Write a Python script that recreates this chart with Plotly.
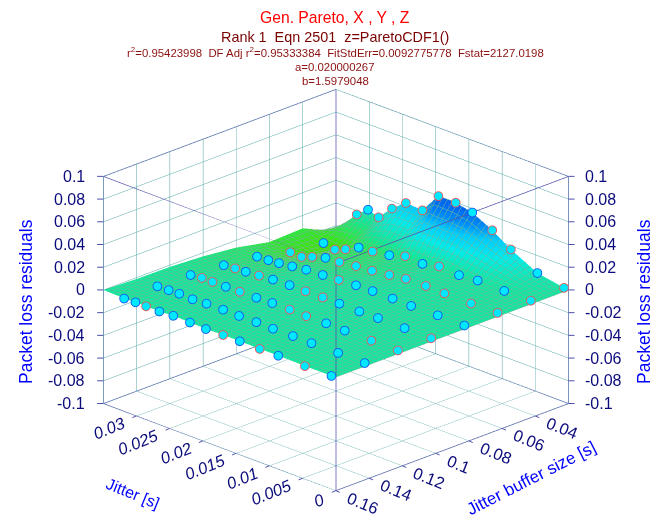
import plotly.graph_objects as go

# ---------- data ----------
jitter = [0.0007, 0.0047, 0.0087, 0.0115, 0.0145, 0.017, 0.0196, 0.022, 0.0245, 0.0266, 0.0286, 0.0302, 0.0319]
buffer_size = [0.16, 0.14, 0.12, 0.10, 0.08, 0.06, 0.04, 0.02]

# residuals at each (buffer row, jitter column)
z_160 = [-0.0004, -0.0005, -0.0001, -0.0003, -0.0001, -0.0001, -0.0005, 0.0, 0.0004, -0.0004, -0.0002, -0.0002, -0.0006]
z_140 = [0.0, 0.0002, 0.0, 0.0001, 0.0, 0.0003, 0.0001, 0.0004, 0.0002, -0.0006, -0.0001, -0.0004, -0.0008]
z_120 = [0.0001, 0.0, 0.0001, 0.0004, 0.0001, 0.0004, 0.0005, -0.0001, -0.0003, -0.0005, -0.0006, -0.0006, -0.0018]
z_100 = [-0.0001, 0.0001, 0.0002, -0.0001, 0.0002, 0.0002, 0.0, 0.0, -0.0005, -0.0016, -0.0026, -0.0032, -0.0041]
z_080 = [0.0002, 0.0004, -0.0001, 0.0003, 0.0003, -0.0001, -0.0011, -0.002, -0.0028, -0.0045, -0.006, -0.0069, -0.0075]
z_060 = [0.0003, -0.0001, 0.0, 0.0004, 0.0001, -0.002, -0.0039, -0.0051, -0.007, -0.0079, -0.0115, -0.015, -0.0147]
z_040 = [0.0001, 0.0, 0.0004, -0.001, 0.0001, -0.0031, -0.0021, -0.0065, -0.0087, -0.0098, -0.0157, -0.0195, -0.0175]
z_020 = [0.0005, 0.0048, 0.0168, 0.0276, 0.0366, 0.0398, 0.0399, 0.0221, 0.0231, 0.0136, 0.0015, 0.0047, -0.0032]
z_rows = [z_160, z_140, z_120, z_100, z_080, z_060, z_040, z_020]
# marker outline: "a" above the fitted surface, "b" below it (listed from high jitter to low jitter)
side_rows = ["aabaaaabababa", "aaaaaaaaaaaaa", "abbabaabbaabb", "ababaabbaaaab", "aaaaaabaaaaaa", "bbbabbbbbbbbb", "abbabababaaab", "babbbbbbabbab"]

# surface nodes: jitter axis limits are added at both ends
surface_jitter = [0.0] + jitter + [0.035]
edge_at_zero = [0.0, 0.0, 0.0, 0.0, 0.0, 0.0, 0.0, 0.0]
edge_at_max = [0.0, -0.0012, -0.0015, -0.0032, -0.0064, -0.0125, -0.0113, -0.0253]

jitter_ticks = [0, 0.005, 0.01, 0.015, 0.02, 0.025, 0.03]
jitter_labels = ["0", "0.005", "0.01", "0.015", "0.02", "0.025", "0.03"]
buffer_ticks = [0.04, 0.06, 0.08, 0.1, 0.12, 0.14, 0.16]
buffer_labels = ["0.04", "0.06", "0.08", "0.1", "0.12", "0.14", "0.16"]
z_ticks = [-0.1, -0.08, -0.06, -0.04, -0.02, 0, 0.02, 0.04, 0.06, 0.08, 0.1]
z_labels = ["-0.1", "-0.08", "-0.06", "-0.04", "-0.02", "0", "0.02", "0.04", "0.06", "0.08", "0.1"]

title_lines = [
    ("Gen. Pareto, X , Y , Z", 15.7, "#ff0000", 18),
    ("Rank 1  Eqn 2501  z=ParetoCDF1()", 14.4, "#7a0000", 37),
    ("r<sup>2</sup>=0.95423998  DF Adj r<sup>2</sup>=0.95333384  FitStdErr=0.0092775778  Fstat=2127.0198", 11.4, "#8c1010", 52),
    ("a=0.020000267", 11.4, "#8c1010", 67),
    ("b=1.5979048", 11.4, "#8c1010", 81),
]

colorscale = [
    [0.0, "#48e000"], [0.12, "#40e400"], [0.24, "#28e850"], [0.36, "#10e898"], [0.44, "#10e8b8"],
    [0.56, "#00ecec"], [0.70, "#00ccff"], [0.80, "#0090f8"], [0.92, "#0068f0"], [1.0, "#0060f0"],
]

NAVY = "#0b0b7c"
BLUE = "#0000ff"
LINE = "#5050ac"
GRID = "#50a6a4"
MESH = "#70b898"
FONT = "Liberation Sans"

surface_z = [[edge_at_zero[j]] + z_rows[j] + [edge_at_max[j]] for j in range(len(buffer_size))]
x_range, y_range, z_range = [0, 0.035], [0.02, 0.16], [-0.1, 0.1]

fig = go.Figure()
fig.add_trace(go.Surface(
    x=surface_jitter, y=buffer_size, z=surface_z,
    colorscale=colorscale, cmin=-0.026, cmax=0.042, showscale=False,
    lighting=dict(ambient=1, diffuse=0, specular=0, roughness=1, fresnel=0),
    contours=dict(
        x=dict(show=True, start=0, end=0.035, size=0.035 / 48, color=MESH, width=1, highlight=False),
        y=dict(show=True, start=0.02, end=0.16, size=0.14 / 48, color=MESH, width=1, highlight=False),
        z=dict(highlight=False),
    ),
    hoverinfo="skip", scene="scene",
))

# box outline, from the axis ranges
x0, x1 = x_range
y0, y1 = y_range
z0, z1 = z_range
edges = [((x0, y0, z0), (x0, y0, z1)), ((x1, y0, z0), (x1, y0, z1)), ((x0, y1, z0), (x0, y1, z1)), ((x1, y1, z0), (x1, y1, z1)),
         ((x0, y0, z0), (x1, y0, z0)), ((x1, y0, z0), (x1, y1, z0)), ((x1, y1, z0), (x0, y1, z0)), ((x0, y1, z0), (x0, y0, z0)),
         ((x0, y0, z1), (x1, y0, z1)), ((x1, y0, z1), (x1, y1, z1)), ((x1, y1, z1), (x0, y1, z1)), ((x0, y1, z1), (x0, y0, z1))]
ex, ey, ez = [], [], []
for a, b in edges:
    ex += [a[0], b[0], None]
    ey += [a[1], b[1], None]
    ez += [a[2], b[2], None]
fig.add_trace(go.Scatter3d(x=ex, y=ey, z=ez, mode="lines", line=dict(color=LINE, width=1.5),
                           hoverinfo="skip", scene="scene"))

all_x, all_y, all_z = [], [], []
for key, outline in (("a", "#1058f0"), ("b", "#e85858")):
    px, py, pz = [], [], []
    for j, yv in enumerate(buffer_size):
        for i, xv in enumerate(jitter):
            if side_rows[j][12 - i] == key:
                px.append(xv)
                py.append(yv)
                pz.append(z_rows[j][i])
    all_x += px
    all_y += py
    all_z += pz
    fig.add_trace(go.Scatter3d(x=px, y=py, z=pz, mode="markers",
                               marker=dict(size=5.6, color=outline, opacity=1, line=dict(width=0)),
                               hoverinfo="skip", scene="scene2"))
fig.add_trace(go.Scatter3d(x=all_x, y=all_y, z=all_z, mode="markers",
                           marker=dict(size=4.6, color="#00e8ff", opacity=1, line=dict(width=0)),
                           hoverinfo="skip", scene="scene3"))


def label_width(t, size=16):
    return size * (0.556 * sum(c.isdigit() for c in t) + 0.278 * ("." in t))


def tick(x, y, z, ax, ay):
    return dict(x=x, y=y, z=z, text=" ", showarrow=True, arrowhead=0, arrowwidth=1, arrowcolor=LINE,
                ax=ax, ay=ay, standoff=0, startstandoff=0, xanchor="center", yanchor="middle")


annots = []
for v, t in zip(z_ticks, z_labels):
    annots.append(dict(x=0.035, y=0.16, z=v, text=t, showarrow=False, xanchor="right", yanchor="middle", xshift=-16,
                       font=dict(family=FONT, size=16, color=NAVY)))
    annots.append(dict(x=0.0, y=0.02, z=v, text=t, showarrow=False, xanchor="left", yanchor="middle", xshift=14,
                       font=dict(family=FONT, size=16, color=NAVY)))
    annots.append(tick(0.035, 0.16, v, -9, 0))
    annots.append(tick(0.0, 0.02, v, 9, 0))
for v, t in zip(jitter_ticks, jitter_labels):
    w = label_width(t)
    annots.append(dict(x=v, y=0.16, z=-0.1, text="<i>" + t + "</i>", showarrow=False, textangle=-22,
                       xanchor="center", yanchor="middle",
                       xshift=-(12.5 + 0.47 * w), yshift=-(8 + 0.14 * w),
                       font=dict(family=FONT, size=16.5, color=NAVY)))
    annots.append(tick(v, 0.16, -0.1, -7, 3))
for v, t in zip(buffer_ticks, buffer_labels):
    w = label_width(t)
    annots.append(dict(x=0.0, y=v, z=-0.1, text=t, showarrow=False, textangle=22,
                       xanchor="center", yanchor="middle",
                       xshift=12.5 + 0.47 * w, yshift=-(8 + 0.13 * w),
                       font=dict(family=FONT, size=16.5, color=NAVY)))
    annots.append(tick(0.0, v, -0.1, 7, 3))

axis_common = dict(showbackground=False, showgrid=True, gridcolor=GRID, gridwidth=1, zeroline=False,
                   showline=False, ticks="", showticklabels=False, title=dict(text=""), showspikes=False)
camera = dict(eye=dict(x=-1.25, y=1.25, z=0.714), center=dict(x=0, y=0, z=0), up=dict(x=0, y=0, z=1),
              projection=dict(type="orthographic"))
dom = dict(x=[0.01, 1.0], y=[0.002, 0.885])
ratio = dict(x=1.43, y=1.43, z=1.065)

scene1 = dict(domain=dom, camera=camera, aspectmode="manual", aspectratio=ratio, annotations=annots,
              xaxis=dict(range=x_range, tickvals=jitter_ticks, **axis_common),
              yaxis=dict(range=y_range, tickvals=buffer_ticks, **axis_common),
              zaxis=dict(range=z_range, tickvals=z_ticks, **axis_common))
overlay = dict(domain=dom, camera=camera, aspectmode="manual", aspectratio=ratio, bgcolor="rgba(0,0,0,0)",
               xaxis=dict(range=x_range, visible=False),
               yaxis=dict(range=y_range, visible=False),
               zaxis=dict(range=z_range, visible=False))

paper = []
for text, size, color, y in title_lines:
    paper.append(dict(xref="paper", yref="paper", x=0.5045, y=1 - y / 521, text=text, showarrow=False,
                      xanchor="center", yanchor="middle", font=dict(family=FONT, size=size, color=color)))
for x, text, ang, y, size in [(26, "Packet loss residuals", -90, 302, 17.5), (644, "Packet loss residuals", -90, 302, 17.5),
                              (133, "Jitter [s]", 22, 493, 16), (531, "Jitter buffer size [s]", -27, 478, 17)]:
    paper.append(dict(xref="paper", yref="paper", x=x / 665, y=1 - y / 521, text=text, showarrow=False,
                      xanchor="center", yanchor="middle",
                      textangle=ang, font=dict(family=FONT, size=size, color=BLUE)))

fig.update_layout(width=665, height=521, margin=dict(l=0, r=0, t=0, b=0), paper_bgcolor="white",
                  showlegend=False, scene=scene1, scene2=overlay, scene3=overlay, annotations=paper)
fig.write_html("out.html", config=dict(displayModeBar=False),
               post_script="document.body.style.margin='0';document.body.style.overflow='hidden';")
